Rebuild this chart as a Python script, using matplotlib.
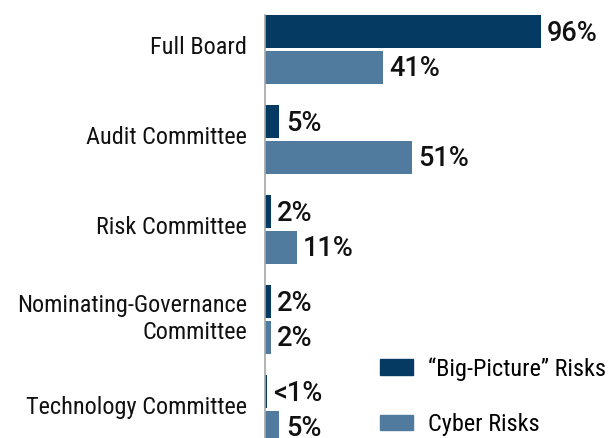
import numpy as np
import matplotlib.pyplot as plt
from matplotlib.patches import Patch

# data
categories = ["Full Board", "Audit Committee", "Risk Committee",
              "Nominating-Governance\nCommittee", "Technology Committee"]
big_picture = [96, 5, 2, 2, 0.6]
cyber = [41, 51, 11, 2, 5]
big_labels = ["96%", "5%", "2%", "2%", "<1%"]
cyber_labels = ["41%", "51%", "11%", "2%", "5%"]
series_names = ["\u201cBig-Picture\u201d Risks", "Cyber Risks"]

dark = "#053a63"
light = "#517b9e"
label_font = ["Liberation Sans Narrow", "DejaVu Sans Condensed",
              "Roboto Condensed", "Open Sans Condensed", "DejaVu Sans"]
value_font = ["Roboto", "Liberation Sans"]

fig = plt.figure(figsize=(6.09, 4.38), dpi=100)
ax = fig.add_axes([265 / 609, 0, 344 / 609, 1 - 15 / 438])

y = np.arange(len(categories))
h = 0.367
off = 0.2
ax.barh(y - off, big_picture, height=h, color=dark)
ax.barh(y + off, cyber, height=h, color=light)

for yi, v, s in zip(y, big_picture, big_labels):
    ax.text(v + 2.2, yi - off + 0.02, s, va="center", ha="left",
            fontsize=19.5, family=value_font, weight="medium", color="#111111")
for yi, v, s in zip(y, cyber, cyber_labels):
    ax.text(v + 2.2, yi + off + 0.01, s, va="center", ha="left",
            fontsize=19.5, family=value_font, weight="medium", color="#111111")

ax.set_xlim(0, 119.7)
ax.set_ylim(4.317, -0.383)
ax.set_yticks(y - 0.05)
ax.set_yticklabels(categories, family=label_font, fontsize=17.5, color="#111111")
ax.tick_params(axis="y", length=0, pad=13)
ax.set_xticks([])
for side in ["top", "right", "bottom"]:
    ax.spines[side].set_visible(False)
ax.spines["left"].set_color("#a6a6a6")
ax.spines["left"].set_linewidth(1.2)

handles = [Patch(color=dark), Patch(color=light)]
fig.legend(handles, series_names, loc="upper left",
           bbox_to_anchor=(380 / 609, 1 - 357 / 438), frameon=False,
           prop={"family": label_font, "size": 17.5},
           handlelength=1.36, handleheight=0.62, handletextpad=0.62,
           labelspacing=1.33, borderpad=0, borderaxespad=0)

fig.savefig("out.png", dpi=100)
